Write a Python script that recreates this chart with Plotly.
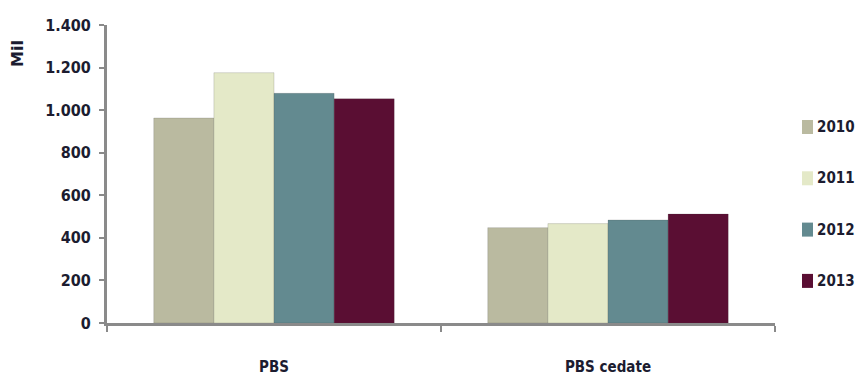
import plotly.graph_objects as go

# Categories, years and values (millions)
categories = ["PBS", "PBS cedate"]
years = ["2010", "2011", "2012", "2013"]
values_2010 = [963, 448]
values_2011 = [1176, 467]
values_2012 = [1079, 484]
values_2013 = [1053, 512]
series = [values_2010, values_2011, values_2012, values_2013]
colors = ["#BABAA0", "#E4E9C8", "#638A90", "#5A0E33"]
y_ticks = [0, 200, 400, 600, 800, 1000, 1200, 1400]

W, H = 855, 378
M_L, M_R, M_T, M_B = 107, 80, 25, 55
plot_w = W - M_L - M_R
plot_h = H - M_T - M_B


def px_x(px):
    """Pixel column -> paper x."""
    return (px - M_L) / plot_w


def px_y(py):
    """Pixel row (from top) -> paper y."""
    return (H - M_B - py) / plot_h


font_family = "DejaVu Sans Condensed, sans-serif"
text_color = "#1c1c30"

fig = go.Figure()
for yr, vals, col in zip(years, series, colors):
    fig.add_trace(go.Bar(
        x=categories, y=vals, name=yr, showlegend=False,
        marker=dict(color=col, line=dict(width=0.5, color="rgba(60,60,60,0.35)")),
    ))

# Legend drawn at the right: a swatch and a label per year
shapes, annotations = [], []
leg_top, leg_step = 127, 51.3
for i, (yr, col) in enumerate(zip(years, colors)):
    cy = leg_top + i * leg_step
    shapes.append(dict(
        type="rect", xref="paper", yref="paper",
        x0=px_x(802), x1=px_x(813), y0=px_y(cy - 7), y1=px_y(cy + 7),
        fillcolor=col, line=dict(width=0),
    ))
    annotations.append(dict(
        text=yr, xref="paper", yref="paper", x=px_x(815), y=px_y(cy),
        xanchor="left", yanchor="middle", showarrow=False,
        font=dict(size=15, family=font_family, color=text_color, weight="bold"),
    ))

annotations.append(dict(
    text="Mil", xref="paper", yref="paper", x=px_x(17), y=px_y(54),
    xanchor="center", yanchor="middle", textangle=-90, showarrow=False,
    font=dict(size=16, family="DejaVu Sans, sans-serif", color=text_color, weight="bold"),
))

fig.update_layout(
    width=W, height=H,
    margin=dict(l=M_L, r=M_R, t=M_T, b=M_B, autoexpand=False),
    paper_bgcolor="white", plot_bgcolor="white",
    barmode="group", bargap=0.28, bargroupgap=0,
    separators=",.",
    showlegend=False,
    font=dict(family=font_family, size=15, color=text_color, weight="bold"),
    xaxis=dict(
        showline=True, linecolor="#8a8a8a", linewidth=3,
        ticks="outside", tickson="boundaries", ticklen=6, tickcolor="#8a8a8a",
        tickwidth=2, showgrid=False, ticklabelstandoff=28,
        tickfont=dict(size=15, family=font_family, weight="bold"),
    ),
    yaxis=dict(
        range=[0, 1400], tickvals=y_ticks, separatethousands=True,
        showline=True, linecolor="#8a8a8a", linewidth=3,
        ticks="outside", ticklen=5, tickcolor="#8a8a8a", tickwidth=2,
        showgrid=False, zeroline=False, ticklabelstandoff=5,
        tickfont=dict(size=16, family=font_family, weight="bold"),
    ),
    shapes=shapes,
    annotations=annotations,
)

fig.write_html("out.html")
